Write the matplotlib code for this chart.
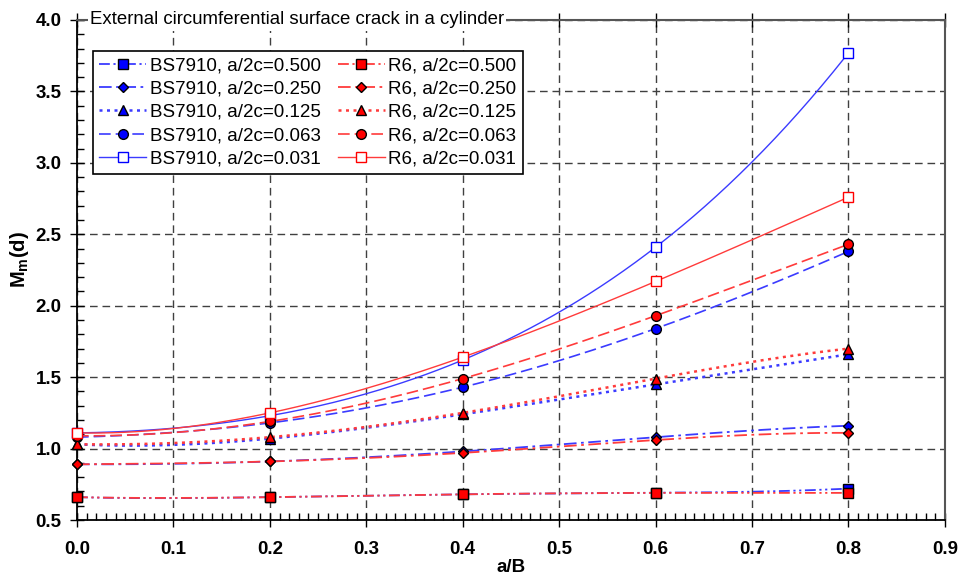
import numpy as np
import matplotlib
matplotlib.use("Agg")
import matplotlib.pyplot as plt
from matplotlib.ticker import MultipleLocator

plt.rcParams['font.family'] = ['Liberation Sans', 'DejaVu Sans']
plt.rcParams['mathtext.fontset'] = 'custom'
plt.rcParams['mathtext.rm'] = 'Liberation Sans:bold'
plt.rcParams['mathtext.bf'] = 'Liberation Sans:bold'
plt.rcParams['mathtext.it'] = 'Liberation Sans:bold'

# ---- data ----
a_over_B = [0.0, 0.2, 0.4, 0.6, 0.8]
ratios = ["0.500", "0.250", "0.125", "0.063", "0.031"]

bs7910_0500 = [0.66, 0.66, 0.68, 0.69, 0.72]
bs7910_0250 = [0.89, 0.91, 0.98, 1.08, 1.16]
bs7910_0125 = [1.03, 1.07, 1.24, 1.45, 1.66]
bs7910_0063 = [1.08, 1.18, 1.43, 1.84, 2.38]
bs7910_0031 = [1.11, 1.23, 1.62, 2.41, 3.77]

r6_0500 = [0.66, 0.66, 0.68, 0.69, 0.69]
r6_0250 = [0.89, 0.91, 0.97, 1.06, 1.11]
r6_0125 = [1.03, 1.08, 1.25, 1.49, 1.70]
r6_0063 = [1.09, 1.19, 1.49, 1.93, 2.43]
r6_0031 = [1.11, 1.25, 1.64, 2.17, 2.76]

bs_series = [bs7910_0500, bs7910_0250, bs7910_0125, bs7910_0063, bs7910_0031]
r6_series = [r6_0500, r6_0250, r6_0125, r6_0063, r6_0031]

x_ticks = [0.0, 0.1, 0.2, 0.3, 0.4, 0.5, 0.6, 0.7, 0.8, 0.9]
title_text = "External circumferential surface crack in a cylinder"
x_label = "a/B"
y_label = r"$\mathbf{M}_{\mathbf{m}}$" + "(d)"

# ---- styles ----
linestyles = [(0, (6, 2, 1.2, 2, 1.2, 2)),
              (0, (7, 2.5, 1.5, 2.5)),
              (0, (1.2, 1.8)),
              (0, (7, 3)),
              '-']
markers = ['s', 'D', '^', 'o', 's']
msizes = [7, 5, 7, 7, 7]
lws = [1.3, 1.3, 1.8, 1.2, 1.0]

fig = plt.figure(figsize=(9.6, 5.78), dpi=100)
ax = fig.add_axes([0.0802, 0.1003, 0.9041, 0.8651])

x = np.array(a_over_B)
xf = np.linspace(x.min(), x.max(), 200)

handles = []
for group, series, col, lcol in [("BS7910", bs_series, '#0000ff', '#3b3bff'),
                                 ("R6", r6_series, '#ff0000', '#ff3b3b')]:
    for i, vals in enumerate(series):
        v = np.array(vals)
        coef = np.polyfit(x, v, 4)
        ax.plot(xf, np.polyval(coef, xf), color=lcol, ls=linestyles[i], lw=lws[i], zorder=3)
        if i == 4:
            mfc, mec = 'white', col
        else:
            mfc, mec = col, 'black'
        ax.plot(x, v, ls='none', marker=markers[i], ms=msizes[i], mfc=mfc, mec=mec,
                mew=1.0, zorder=4, clip_on=False)
        h, = ax.plot([], [], color=lcol, ls=linestyles[i], lw=lws[i], marker=markers[i],
                     ms=msizes[i], mfc=mfc, mec=mec, mew=1.0,
                     label=f"{group}, a/2c={ratios[i]}")
        handles.append(h)

ax.set_xlim(0, 0.9)
ax.set_ylim(0.5, 4.0)
ax.xaxis.set_major_locator(MultipleLocator(0.1))
ax.xaxis.set_minor_locator(MultipleLocator(0.01))
ax.yaxis.set_major_locator(MultipleLocator(0.5))
ax.yaxis.set_minor_locator(MultipleLocator(0.1))

ax.grid(True, which='major', color='#404040', ls=(0, (5.5, 3.5)), lw=1.0, zorder=1)

ax.tick_params(axis='both', which='major', direction='inout', length=10, width=1.0,
               colors='black')
ax.tick_params(axis='y', which='major', pad=6)
ax.tick_params(axis='x', which='major', pad=10)
ax.tick_params(axis='both', which='minor', direction='in', length=5, width=1.0)
ax.tick_params(axis='x', which='major', top=True, labeltop=False)
ax.tick_params(axis='x', which='minor', top=False)

ax.set_xticks(x_ticks)
ax.set_xticklabels([f"{t:.1f}" for t in x_ticks], fontweight='bold', fontsize=13.5)
for lab in ax.get_yticklabels():
    lab.set_fontweight('bold')
    lab.set_fontsize(13.5)

for s in ['left', 'bottom']:
    ax.spines[s].set_color('black')
    ax.spines[s].set_linewidth(1.3)
for s in ['top', 'right']:
    ax.spines[s].set_color('#555555')
    ax.spines[s].set_linewidth(1.5)

ax.set_xlabel(x_label, fontsize=13.5, fontweight='bold', labelpad=1)
ax.set_ylabel(y_label, fontsize=14.5, fontweight='bold')
ax.yaxis.set_label_coords(-0.053, 0.52)

ax.text(0.015, 1.0, title_text, transform=ax.transAxes, fontsize=13.4,
        ha='left', va='center', zorder=10,
        bbox=dict(facecolor='white', edgecolor='none', pad=1.5))

leg = ax.legend(handles=handles, ncol=2, loc='upper left',
                bbox_to_anchor=(0.018, 0.938), fontsize=13.5, frameon=True,
                fancybox=False, framealpha=1, edgecolor='black',
                handlelength=2.5, handletextpad=0.2, columnspacing=0.9,
                labelspacing=0.32, borderpad=0.35, borderaxespad=0)
leg.get_frame().set_linewidth(1.2)
leg.set_zorder(11)

fig.savefig("out.png", dpi=100)
